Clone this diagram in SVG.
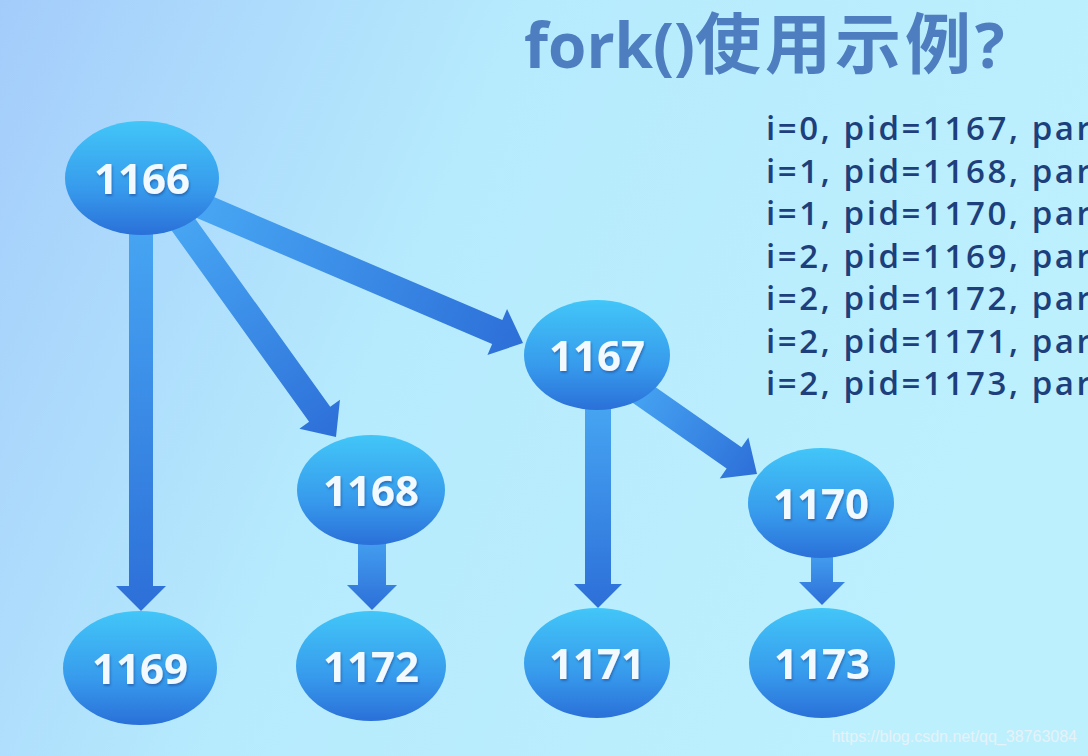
<svg xmlns="http://www.w3.org/2000/svg" width="1088" height="756" viewBox="0 0 1088 756">
<defs>
<linearGradient id="bg" x1="0" y1="0" x2="1" y2="0.3">
<stop offset="0" stop-color="#a4ccfb"/>
<stop offset="0.45" stop-color="#b6ebfd"/>
<stop offset="1" stop-color="#bdf0fd"/>
</linearGradient>
<linearGradient id="ng" x1="0" y1="0" x2="0" y2="1">
<stop offset="0" stop-color="#42c6f8"/>
<stop offset="0.6" stop-color="#379aec"/>
<stop offset="1" stop-color="#2a70d8"/>
</linearGradient>
<linearGradient id="ag" x1="0" y1="0" x2="1" y2="0">
<stop offset="0" stop-color="#47a6f3"/>
<stop offset="1" stop-color="#2d6fd8"/>
</linearGradient>
<filter id="sh" x="-10%" y="-10%" width="130%" height="130%">
<feDropShadow dx="1" dy="2" stdDeviation="1.2" flood-color="#1c4f9a" flood-opacity="0.6"/>
</filter>
<style>
.node ellipse{fill:url(#ng);}
.node text{font-family:"Open Sans","Noto Sans","DejaVu Sans",sans-serif;font-weight:bold;font-size:42px;fill:#f2faff;text-anchor:middle;filter:url(#sh);}
.arr{fill:url(#ag);}
.out{font-family:"Open Sans","Noto Sans","DejaVu Sans",sans-serif;font-weight:600;font-size:33px;letter-spacing:2.6px;fill:#1d3f7c;}
.title{font-family:"Open Sans","Noto Sans CJK SC",sans-serif;font-weight:bold;font-size:62px;fill:#4f7ec0;}
.cjk{font-family:"Noto Sans CJK SC",sans-serif;font-size:66px;letter-spacing:4px;}
.wm{font-family:"Liberation Sans",Arial,sans-serif;font-size:16px;fill:#e6f2f8;}
</style>
</defs>
<rect width="1088" height="756" fill="url(#bg)"/>
<text class="title" x="524" y="68">fork()<tspan class="cjk">使用示例</tspan>?</text>
<g id="output">
<text class="out" x="766" y="140">i=0, pid=1167, par</text>
<text class="out" x="766" y="183">i=1, pid=1168, par</text>
<text class="out" x="766" y="225">i=1, pid=1170, par</text>
<text class="out" x="766" y="268">i=2, pid=1169, par</text>
<text class="out" x="766" y="310">i=2, pid=1172, par</text>
<text class="out" x="766" y="353">i=2, pid=1171, par</text>
<text class="out" x="766" y="395">i=2, pid=1173, par</text>
</g>
<g id="connectors">
<polygon class="arr" transform="translate(141,611) rotate(90)" points="0,0 -25,-25 -25,-12 -391,-12 -391,12 -25,12 -25,25"/>
<polygon class="arr" transform="translate(336,437) rotate(54.3)" points="0,0 -28,-25 -28,-13 -267,-13 -267,13 -28,13 -28,25"/>
<polygon class="arr" transform="translate(523,343) rotate(23.1)" points="0,0 -28,-25 -28,-13 -351,-13 -351,13 -28,13 -28,25"/>
<polygon class="arr" transform="translate(598,608) rotate(90)" points="0,0 -24,-24 -24,-13 -208,-13 -208,13 -24,13 -24,24"/>
<polygon class="arr" transform="translate(757,474) rotate(35)" points="0,0 -28,-25 -28,-13 -155,-13 -155,13 -28,13 -28,25"/>
<polygon class="arr" transform="translate(372,610) rotate(90)" points="0,0 -25,-25 -25,-14 -80,-14 -80,14 -25,14 -25,25"/>
<polygon class="arr" transform="translate(822,605) rotate(90)" points="0,0 -23,-23 -23,-11 -60,-11 -60,11 -23,11 -23,23"/>
</g>
<g id="n1166" class="node"><ellipse cx="142" cy="178" rx="77" ry="57"/><text x="142" y="194">1166</text></g>
<g id="n1167" class="node"><ellipse cx="597" cy="355" rx="73" ry="55"/><text x="597" y="371">1167</text></g>
<g id="n1168" class="node"><ellipse cx="371" cy="490" rx="74" ry="55"/><text x="371" y="506">1168</text></g>
<g id="n1170" class="node"><ellipse cx="821" cy="503" rx="73" ry="55"/><text x="821" y="519">1170</text></g>
<g id="n1169" class="node"><ellipse cx="140" cy="668" rx="77" ry="57"/><text x="140" y="684">1169</text></g>
<g id="n1172" class="node"><ellipse cx="371" cy="666" rx="75" ry="55"/><text x="371" y="682">1172</text></g>
<g id="n1171" class="node"><ellipse cx="597" cy="663" rx="73" ry="55"/><text x="597" y="679">1171</text></g>
<g id="n1173" class="node"><ellipse cx="822" cy="663" rx="73" ry="55"/><text x="822" y="679">1173</text></g>
<text class="wm" x="1077" y="742" text-anchor="end">https://blog.csdn.net/qq_38763084</text>
</svg>
